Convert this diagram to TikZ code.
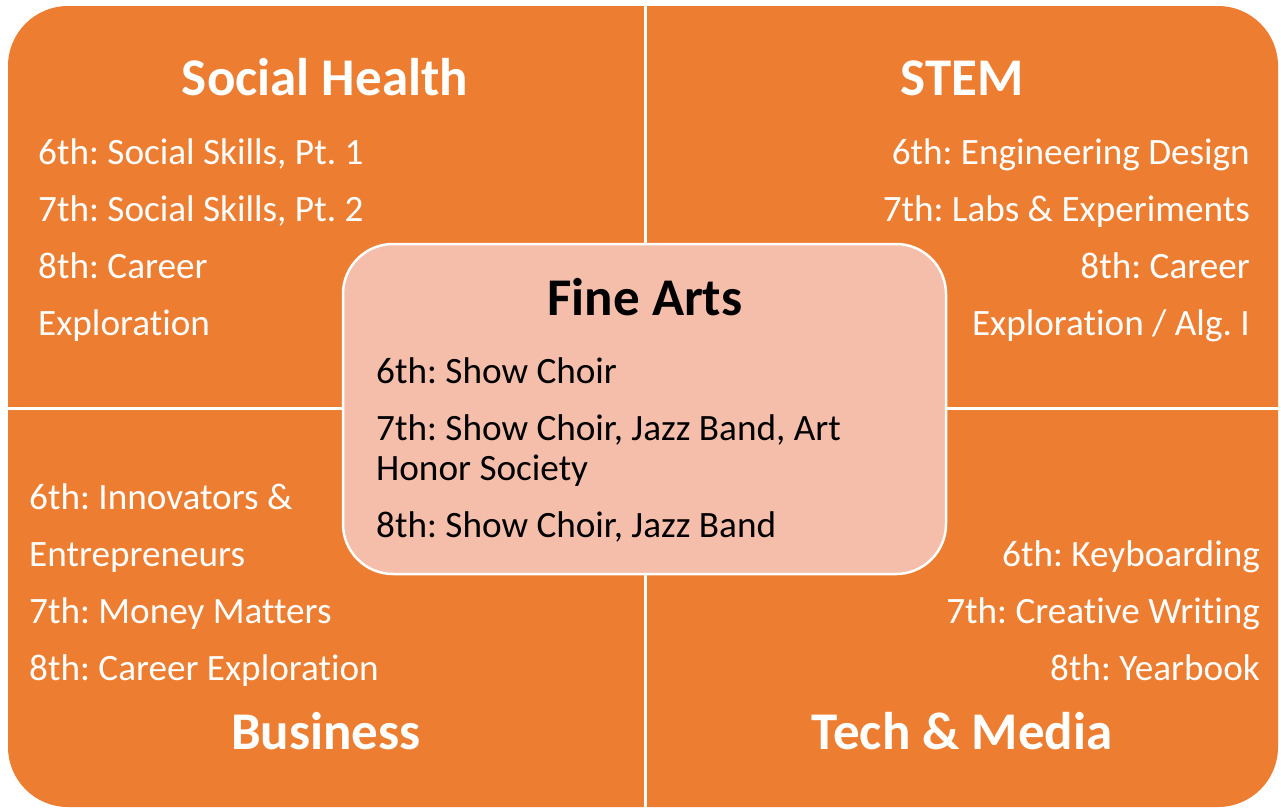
\documentclass[tikz,border=0pt]{standalone}
\usepackage{fontspec}
\setmainfont{Carlito}[RawFeature={-liga;-clig;-dlig}]
\frenchspacing
\definecolor{qorange}{HTML}{ED7D31}
\definecolor{qpink}{HTML}{F4BEAB}
\tikzset{
  ttl/.style={font=\fontsize{53}{60}\selectfont\bfseries, inner sep=0pt, anchor=base},
  body/.style={font=\fontsize{37.2}{40}\selectfont\frenchspacing, inner sep=0pt},
  bl/.style={body, anchor=base west, text=white},
  br/.style={body, anchor=base east, text=white},
  cb/.style={body, anchor=base west, text=black},
}
\begin{document}
\begin{tikzpicture}[x=1pt,y=-1pt]
\useasboundingbox (0,0) rectangle (1281,809);
\fill[white] (0,0) rectangle (1281,809);
% outer orange area with rounded outer corners
\fill[qorange, rounded corners=60pt] (8,6) rectangle (1278,807);
% white gaps between quadrants
\draw[white, line width=3pt] (645,0) -- (645,809);
\draw[white, line width=3pt] (0,408.5) -- (1281,408.5);
% centre box
\draw[fill=qpink, draw=white, line width=2.5pt, rounded corners=50pt] (343,244) rectangle (946,574);

% Social Health
\node[ttl, text=white] (sh) at (325,95) {Social Health};
\node[bl] (sh1) at (38,164) {6th: Social Skills, Pt. 1};
\node[bl] (sh2) at (38,221) {7th: Social Skills, Pt. 2};
\node[bl] (sh3) at (38,278) {8th: Career};
\node[bl] (sh4) at (38,335) {Exploration};

% STEM
\node[ttl, text=white] (st) at (962,95) {STEM};
\node[br] (st1) at (1250,164) {6th: Engineering Design};
\node[br] (st2) at (1250,221) {7th: Labs \& Experiments};
\node[br] (st3) at (1250,278) {8th: Career};
\node[br] (st4) at (1250,335) {Exploration / Alg. I};

% Business
\node[bl] (bu1) at (29,509) {6th: Innovators \&};
\node[bl] (bu2) at (29,566) {Entrepreneurs};
\node[bl] (bu3) at (29,623) {7th: Money Matters};
\node[bl] (bu4) at (29,680) {8th: Career Exploration};
\node[ttl, text=white] (bu) at (326,749) {Business};

% Tech & Media
\node[br] (tm1) at (1260,566) {6th: Keyboarding};
\node[br] (tm2) at (1260,623) {7th: Creative Writing};
\node[br] (tm3) at (1260,680) {8th: Yearbook};
\node[ttl, text=white] (tm) at (962,749) {Tech \& Media};

% Fine Arts
\node[ttl, text=black] (fa) at (645,315) {Fine Arts};
\node[cb] (fa1) at (376,383) {6th: Show Choir};
\node[cb] (fa2) at (376,440) {7th: Show Choir, Jazz Band, Art};
\node[cb] (fa3) at (376,480) {Honor Society};
\node[cb] (fa4) at (376,537) {8th: Show Choir, Jazz Band};
\end{tikzpicture}
\end{document}
